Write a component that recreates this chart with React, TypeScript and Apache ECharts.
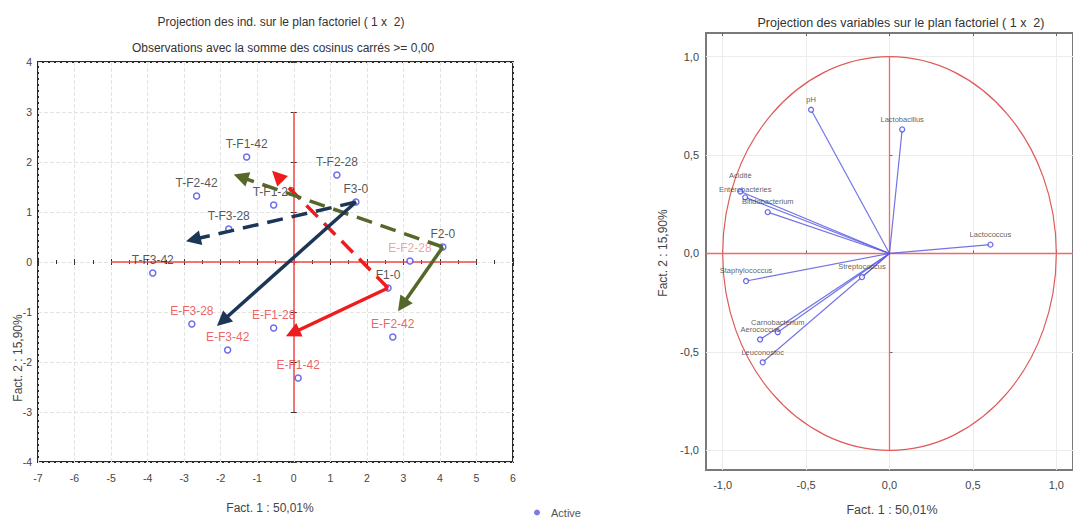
import React, { useEffect, useRef } from "react";
import * as echarts from "echarts";

// ---------- Left chart: individuals ----------
const indNames = ["T-F1-42", "T-F2-42", "T-F1-28", "T-F2-28", "F3-0", "T-F3-28", "T-F3-42", "F2-0", "E-F2-28", "F1-0", "E-F3-28", "E-F3-42", "E-F1-28", "E-F1-42", "E-F2-42"];
const indF1 = [-1.29, -2.66, -0.55, 1.18, 1.7, -1.78, -3.86, 4.08, 3.18, 2.58, -2.79, -1.81, -0.55, 0.12, 2.71];
const indF2 = [2.1, 1.32, 1.14, 1.74, 1.2, 0.66, -0.22, 0.3, 0.02, -0.52, -1.24, -1.76, -1.32, -2.32, -1.5];

const arrowFrom = ["F1-0", "F1-0", "F2-0", "F2-0", "F3-0", "F3-0"];
const arrowToF1 = [-0.45, -0.03, -1.45, 2.97, -1.95, -2.75];
const arrowToF2 = [1.72, -1.42, 1.7, -0.86, -1.18, 0.45];

const leftXTicks = [-7, 6];
const leftYTicks = [-4, 4];
const leftRefH = [[-5, 0], [5, 0]];
const leftRefV = [[0, 3], [0, -3]];

// ---------- Right chart: variables ----------
const varNames = ["pH", "Lactobacillus", "Lactococcus", "Staphylococcus", "Streptococcus", "Acidité", "Entérobactéries", "Bifidobacterium", "Carnobacterium", "Aerococcus", "Leuconostoc"];
const varF1 = [-0.47, 0.076, 0.605, -0.86, -0.165, -0.894, -0.865, -0.73, -0.67, -0.776, -0.76];
const varF2 = [0.73, 0.63, 0.045, -0.14, -0.12, 0.315, 0.285, 0.21, -0.4, -0.437, -0.553];

const rightTicks = [-1, -0.5, 0, 0.5, 1];
const rightXRange = [-1.1, 1.1];
const rightYRange = [-1.1, 1.12];
const unitCircle = [[0, 0, 1]];

const FONT = "'Liberation Sans', Arial, sans-serif";

const arrowColors = ["#ee1c1c", "#ee1c1c", "#56672a", "#56672a", "#1d3656", "#1d3656"];
const arrowDashed = [true, false, true, false, false, true];

function fmtComma(v: number) {
  const s = (Math.abs(v) < 1e-9 ? 0 : v).toFixed(1);
  return s.replace(".", ",");
}

export default function App() {
  const ref = useRef<HTMLDivElement>(null);

  useEffect(() => {
    document.body.style.margin = "0";
    if (!ref.current) return;
    const chart = echarts.init(ref.current, null, { renderer: "svg" });

    const indData = indNames.map((n, i) => {
      const isE = n.startsWith("E-");
      return {
        name: n,
        value: [indF1[i], indF2[i]],
        label: { color: isE ? (n === "E-F2-28" ? "#ec8a8a" : "#e83a3a") : "#2a2a2a" },
      };
    });

    const arrowData = arrowFrom.map((from, i) => {
      const k = indNames.indexOf(from);
      return {
        coords: [
          [indF1[k], indF2[k]],
          [arrowToF1[i], arrowToF2[i]],
        ],
        lineStyle: {
          color: arrowColors[i],
          width: 3.5,
          opacity: 1,
          type: arrowDashed[i] ? [16, 9] : "solid",
        },
      };
    });

    const rightGridLines: any[] = [];
    rightTicks.forEach((t) => {
      rightGridLines.push({ coords: [[t, rightYRange[0]], [t, rightYRange[1]]] });
      rightGridLines.push({ coords: [[rightXRange[0], t], [rightXRange[1], t]] });
    });

    const varData = varNames.map((n, i) => {
      const item: any = { name: n, value: [varF1[i], varF2[i]] };
      if (n === "Acidité") item.label = { distance: 9 };
      if (n === "Entérobactéries") item.label = { distance: 1 };
      return item;
    });
    const varLines = varNames.map((n, i) => ({ coords: [[0, 0], [varF1[i], varF2[i]]] }));

    const tickStyle = { color: "#333", width: 1 };
    const titleStyle = { fontSize: 12, fontWeight: "normal", color: "#333", fontFamily: FONT };

    const option: any = {
      animation: false,
      backgroundColor: "#ffffff",
      textStyle: { fontFamily: FONT },
      title: [
        { text: "Projection des ind. sur le plan factoriel ( 1 x  2)", left: 276, top: 11, textAlign: "center", textStyle: titleStyle },
        { text: "Observations avec la somme des cosinus carrés >= 0,00", left: 278, top: 37, textAlign: "center", textStyle: titleStyle },
        { text: "Projection des variables sur le plan factoriel ( 1 x  2)", left: 896, top: 11, textAlign: "center", textStyle: { ...titleStyle, fontSize: 12.5 } },
      ],
      legend: {
        left: 529,
        top: 502,
        itemWidth: 6,
        itemHeight: 6,
        itemGap: 6,
        textStyle: { fontSize: 11, color: "#555", fontFamily: FONT, padding: [0, 0, 0, 6] },
        data: [{ name: "Active", icon: "circle", itemStyle: { color: "#5a5ad8", borderWidth: 0 } }],
      },
      grid: [
        { left: 38, top: 62, width: 475, height: 400, show: true, borderColor: "#2a2a2a", borderWidth: 2, backgroundColor: "transparent" },
        { left: 706, top: 33, width: 374, height: 437, show: true, borderColor: "#7a7a7a", borderWidth: 2, backgroundColor: "transparent" },
      ],
      xAxis: [
        {
          gridIndex: 0, type: "value", min: leftXTicks[0], max: leftXTicks[1], interval: 1,
          axisLine: { show: false },
          axisTick: { show: true, inside: true, length: 3, lineStyle: tickStyle },
          minorTick: { show: true, splitNumber: 2, length: 2, lineStyle: tickStyle },
          axisLabel: { fontSize: 10.5, color: "#444", margin: 10 },
          splitLine: { show: true, lineStyle: { color: "#e4e4e4", type: "dashed", width: 1 } },
        },
        {
          gridIndex: 0, type: "value", position: "top", min: leftXTicks[0], max: leftXTicks[1], interval: 1,
          axisLine: { show: false },
          axisTick: { show: true, inside: true, length: 3, lineStyle: tickStyle },
          minorTick: { show: true, splitNumber: 2, length: 2, lineStyle: tickStyle },
          axisLabel: { show: false },
          splitLine: { show: false },
        },
        {
          gridIndex: 1, type: "value", min: rightXRange[0], max: rightXRange[1],
          axisLine: { show: false },
          axisTick: { show: true, inside: true, length: 3, customValues: rightTicks, lineStyle: { color: "#666" } },
          axisLabel: { fontSize: 11, color: "#444", margin: 9, customValues: rightTicks, formatter: (v: number) => fmtComma(v) },
          splitLine: { show: false },
        },
        {
          gridIndex: 1, type: "value", position: "top", min: rightXRange[0], max: rightXRange[1],
          axisLine: { show: false },
          axisTick: { show: true, inside: true, length: 3, customValues: rightTicks, lineStyle: { color: "#666" } },
          axisLabel: { show: false },
          splitLine: { show: false },
        },
      ],
      yAxis: [
        {
          gridIndex: 0, type: "value", min: leftYTicks[0], max: leftYTicks[1], interval: 1,
          axisLine: { show: false },
          axisTick: { show: true, inside: true, length: 3, lineStyle: tickStyle },
          axisLabel: { fontSize: 10.5, color: "#444", margin: 6 },
          splitLine: { show: true, lineStyle: { color: "#e4e4e4", type: "dashed", width: 1 } },
        },
        {
          gridIndex: 0, type: "value", position: "right", min: leftYTicks[0], max: leftYTicks[1], interval: 1,
          axisLine: { show: false },
          axisTick: { show: true, inside: true, length: 3, lineStyle: tickStyle },
          axisLabel: { show: false },
          splitLine: { show: false },
        },
        {
          gridIndex: 1, type: "value", min: rightYRange[0], max: rightYRange[1],
          axisLine: { show: false },
          axisTick: { show: true, inside: true, length: 3, customValues: rightTicks, lineStyle: { color: "#666" } },
          axisLabel: { fontSize: 11, color: "#444", margin: 7, customValues: rightTicks, formatter: (v: number) => fmtComma(v) },
          splitLine: { show: false },
        },
      ],
      series: [
        {
          type: "lines", coordinateSystem: "cartesian2d", xAxisIndex: 2, yAxisIndex: 2, silent: true, z: 0,
          symbol: ["none", "none"],
          lineStyle: { color: "#ececec", width: 1, opacity: 1 },
          data: rightGridLines,
        },
        {
          type: "lines", coordinateSystem: "cartesian2d", xAxisIndex: 0, yAxisIndex: 0, silent: true, z: 1,
          symbol: ["none", "none"],
          lineStyle: { color: "#f04848", width: 1.5, opacity: 1 },
          data: [{ coords: leftRefH }, { coords: leftRefV }],
        },
        {
          name: "Active", type: "scatter", xAxisIndex: 0, yAxisIndex: 0, z: 2,
          symbol: "circle", symbolSize: 6,
          itemStyle: { color: "#ffffff", borderColor: "#4646e8", borderWidth: 1.5 },
          label: { show: true, position: "top", distance: 3, formatter: "{b}", fontSize: 12, fontFamily: FONT },
          data: indData,
        },
        {
          type: "lines", coordinateSystem: "cartesian2d", xAxisIndex: 0, yAxisIndex: 0, silent: true, z: 3,
          symbol: ["none", "triangle"], symbolSize: [1, 15],
          lineStyle: { opacity: 1 },
          data: arrowData,
        },
        {
          type: "custom", xAxisIndex: 2, yAxisIndex: 2, silent: true, z: 1,
          encode: { x: 0, y: 1 },
          data: unitCircle,
          renderItem: (params: any, api: any) => {
            const cx = api.value(0), cy = api.value(1), r = api.value(2);
            const c = api.coord([cx, cy]);
            const px = api.coord([cx + r, cy]);
            const py = api.coord([cx, cy + r]);
            return {
              type: "ellipse",
              shape: { cx: c[0], cy: c[1], rx: px[0] - c[0], ry: c[1] - py[1] },
              style: { fill: "none", stroke: "#e05a5a", lineWidth: 1.2 },
            };
          },
        },
        {
          type: "lines", coordinateSystem: "cartesian2d", xAxisIndex: 2, yAxisIndex: 2, silent: true, z: 1,
          symbol: ["none", "none"],
          lineStyle: { color: "#f06a6a", width: 1.3, opacity: 1 },
          data: [{ coords: [[rightXRange[0], 0], [rightXRange[1], 0]] }, { coords: [[0, -1], [0, 1]] }],
        },
        {
          type: "lines", coordinateSystem: "cartesian2d", xAxisIndex: 2, yAxisIndex: 2, silent: true, z: 2,
          symbol: ["none", "none"],
          lineStyle: { color: "#5a5ae0", width: 1.2, opacity: 0.85 },
          data: varLines,
        },
        {
          name: "Variables", type: "scatter", xAxisIndex: 2, yAxisIndex: 2, z: 3,
          symbol: "circle", symbolSize: 5,
          itemStyle: { color: "#ffffff", borderColor: "#4646e8", borderWidth: 1.3 },
          label: { show: true, position: "top", distance: 3, formatter: "{b}", fontSize: 7.5, color: "#333", fontFamily: FONT },
          data: varData,
        },
      ],
      graphic: [
        { type: "text", x: 270, y: 508, style: { text: "Fact. 1 : 50,01%", fontSize: 12, fill: "#444", align: "center", verticalAlign: "middle", fontFamily: FONT } },
        { type: "text", x: 18, y: 358, rotation: Math.PI / 2, style: { text: "Fact. 2 : 15,90%", fontSize: 12, fill: "#444", align: "center", verticalAlign: "middle", fontFamily: FONT } },
        { type: "text", x: 892, y: 510, style: { text: "Fact. 1 : 50,01%", fontSize: 12.5, fill: "#444", align: "center", verticalAlign: "middle", fontFamily: FONT } },
        { type: "text", x: 663, y: 253, rotation: Math.PI / 2, style: { text: "Fact. 2 : 15,90%", fontSize: 12, fill: "#444", align: "center", verticalAlign: "middle", fontFamily: FONT } },
      ],
    };

    chart.setOption(option);
    return () => chart.dispose();
  }, []);

  return <div ref={ref} style={{ width: 1073, height: 520 }} />;
}
